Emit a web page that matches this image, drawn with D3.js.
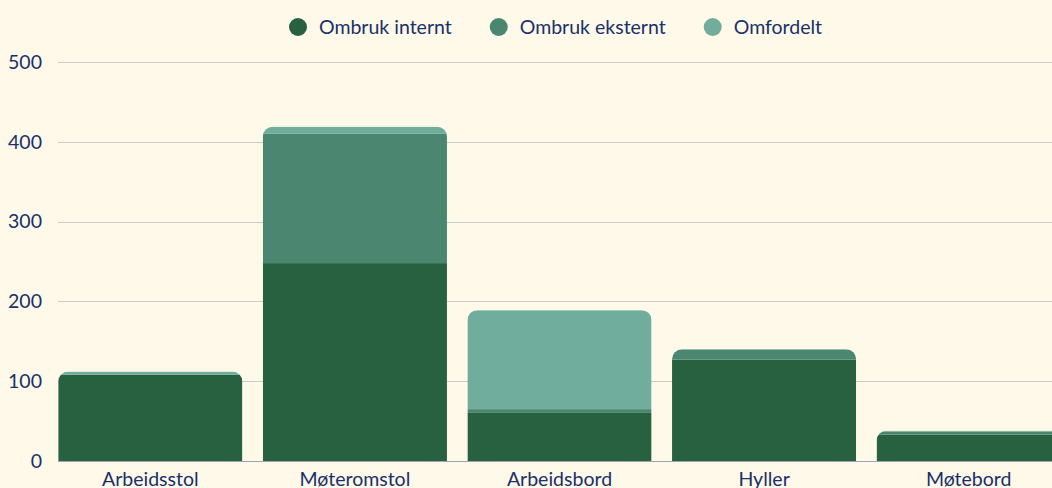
<!DOCTYPE html>
<html>
<head>
<meta charset="utf-8">
<script src="https://cdn.jsdelivr.net/npm/d3@7"></script>
<style>
  html, body { margin: 0; padding: 0; background: #fef9e8; overflow: hidden; }
  svg { display: block; font-family: "Lato", "Open Sans", sans-serif; }
</style>
</head>
<body>
<div id="chart"></div>
<script>
// data
var categories = ["Arbeidsstol", "Møteromstol", "Arbeidsbord", "Hyller", "Møtebord"];
var seriesNames = ["Ombruk internt", "Ombruk eksternt", "Omfordelt"];
var internt = [108, 248, 61, 127, 33];
var eksternt = [0, 162, 4, 13, 4];
var omfordelt = [4, 9, 124, 0, 1];
var yTicks = [0, 100, 200, 300, 400, 500];

var colors = ["#276140", "#4b8670", "#70ad9d"];
var textColor = "#19306a";

var width = 1052, height = 488;
var margin = {top: 62, left: 58, bottom: 27};

var svg = d3.select("#chart").append("svg")
    .attr("width", width)
    .attr("height", height);

svg.append("rect").attr("width", width).attr("height", height).attr("fill", "#fef9e8");

// build rows for the stack
var rows = categories.map(function(c, i){
    return {cat: c, "Ombruk internt": internt[i], "Ombruk eksternt": eksternt[i], "Omfordelt": omfordelt[i]};
});
var stacked = d3.stack().keys(seriesNames)(rows);

var y = d3.scaleLinear().domain([0, 500]).range([height - margin.bottom, margin.top]);
var x = d3.scaleBand().domain(categories).range([48, 1071]).paddingInner(0.1).paddingOuter(0.05);

// gridlines
svg.append("g").selectAll("line")
    .data(yTicks.slice(1))
    .enter().append("line")
    .attr("x1", margin.left).attr("x2", width)
    .attr("y1", function(d){ return Math.round(y(d)) + 0.5; })
    .attr("y2", function(d){ return Math.round(y(d)) + 0.5; })
    .attr("stroke", "#cbcbc6").attr("stroke-width", 1);

// baseline
svg.append("line")
    .attr("x1", margin.left).attr("x2", width)
    .attr("y1", Math.round(y(0)) + 0.5).attr("y2", Math.round(y(0)) + 0.5)
    .attr("stroke", "#9ba3b5").attr("stroke-width", 1);

// y labels
var yAxis = d3.axisLeft(y).tickValues(yTicks).tickSize(0).tickPadding(0);
var yg = svg.append("g").attr("transform", "translate(42,0)").call(yAxis);
yg.select(".domain").remove();
yg.selectAll("text").attr("fill", textColor).style("font-size", "19.5px")
    .style("font-family", "Lato, 'Open Sans', sans-serif");

// clip paths: rounded top per bar
var defs = svg.append("defs");
rows.forEach(function(r, i){
    var total = internt[i] + eksternt[i] + omfordelt[i];
    defs.append("clipPath").attr("id", "clip" + i)
        .append("rect")
        .attr("x", x(r.cat))
        .attr("y", y(total))
        .attr("width", x.bandwidth())
        .attr("height", y(0) - y(total) + 20)
        .attr("rx", 10).attr("ry", 10);
});

// stacked bars
var layers = svg.append("g").selectAll("g")
    .data(stacked)
    .enter().append("g")
    .attr("fill", function(d, i){ return colors[i]; });

layers.selectAll("rect")
    .data(function(d){ return d; })
    .enter().append("rect")
    .attr("clip-path", function(d, i){ return "url(#clip" + i + ")"; })
    .attr("x", function(d){ return x(d.data.cat); })
    .attr("y", function(d){ return y(d[1]); })
    .attr("width", x.bandwidth())
    .attr("height", function(d){ return y(d[0]) - y(d[1]); });

// x labels (cut by the bottom edge, as in the original)
var xAxis = d3.axisBottom(x).tickSize(0).tickPadding(0);
var xg = svg.append("g").attr("transform", "translate(0," + 472 + ")").call(xAxis);
xg.select(".domain").remove();
xg.selectAll("text").attr("fill", textColor).style("font-size", "19.5px")
    .style("font-family", "Lato, 'Open Sans', sans-serif");

// legend
var legend = svg.append("g").attr("transform", "translate(0,27)");
var lx = 289;
seriesNames.forEach(function(name, i){
    var item = legend.append("g").attr("transform", "translate(" + lx + ",0)");
    item.append("circle").attr("cx", 9).attr("cy", 0).attr("r", 9).attr("fill", colors[i]);
    var t = item.append("text").attr("x", 30).attr("y", 0).attr("dy", "0.35em")
        .attr("fill", textColor).style("font-size", "19.5px").text(name);
    lx += 30 + t.node().getComputedTextLength() + 38;
});
</script>
</body>
</html>
